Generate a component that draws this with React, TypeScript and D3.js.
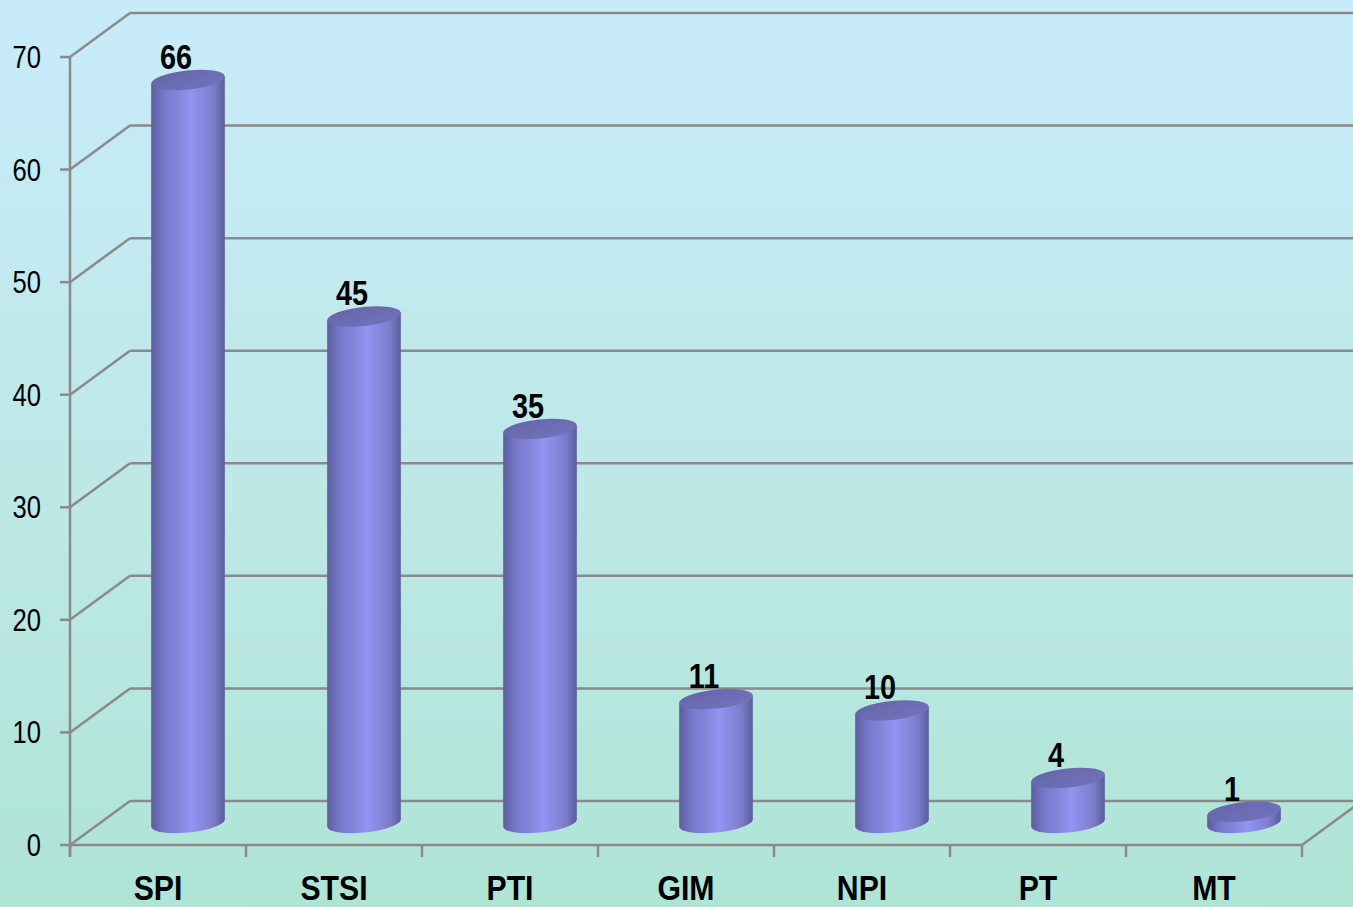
import React from 'react';
import * as d3 from 'd3';

const categories = ['SPI', 'STSI', 'PTI', 'GIM', 'NPI', 'PT', 'MT'];
const values = [66, 45, 35, 11, 10, 4, 1];
const yTicks = [0, 10, 20, 30, 40, 50, 60, 70];

const W = 1353;
const H = 907;
const depthX = 60;
const depthY = -44;
const gridColor = '#8a8a8a';
const font = "'Liberation Sans', Arial, sans-serif";
const squeeze = 0.8; // no narrow font installed, so condense by hand

// text drawn condensed around its anchor point
function NarrowText(props: { x: number; y: number; size: number; bold?: boolean; anchor?: string; sx?: number; children: React.ReactNode }) {
  return (
    <g transform={`translate(${props.x},${props.y}) scale(${props.sx || squeeze},1)`}>
      <text
        x={0}
        y={0}
        textAnchor={props.anchor || 'middle'}
        fontFamily={font}
        fontWeight={props.bold ? 'bold' : 'normal'}
        fontSize={props.size}
        fill="#000"
      >
        {props.children}
      </text>
    </g>
  );
}

export default function App() {
  const x = d3.scaleBand<string>().domain(categories).range([70, 1302]).padding(0);
  const y = d3.scaleLinear().domain([0, 70]).range([845, 57]);

  const rx = 37;
  const ry = 9.5;
  const rot = -6;
  const th = (rot * Math.PI) / 180;
  const xe = Math.sqrt(rx * rx * Math.cos(th) ** 2 + ry * ry * Math.sin(th) ** 2);
  const ye = ((rx * rx - ry * ry) * Math.sin(th) * Math.cos(th)) / xe;

  const x0 = x.range()[0];
  const x1 = x.range()[1];
  const bounds = categories.map((c) => x(c)!).concat([x1]);

  return (
    <svg width={W} height={H} style={{ position: 'absolute', left: 0, top: 0 }}>
      <defs>
        <linearGradient id="bg" x1="0" y1="0" x2="0" y2="1">
          <stop offset="0%" stopColor="#c8ebfa" />
          <stop offset="55%" stopColor="#bde8e6" />
          <stop offset="100%" stopColor="#afe4d5" />
        </linearGradient>
        <linearGradient id="cyl" x1="0" y1="0" x2="1" y2="0">
          <stop offset="0%" stopColor="#5a5b9e" />
          <stop offset="15%" stopColor="#7476c4" />
          <stop offset="55%" stopColor="#9194f2" />
          <stop offset="85%" stopColor="#7a7cca" />
          <stop offset="100%" stopColor="#5b5c9a" />
        </linearGradient>
        <linearGradient id="cap" x1="0" y1="0" x2="1" y2="1">
          <stop offset="0%" stopColor="#6465a8" />
          <stop offset="100%" stopColor="#7273bc" />
        </linearGradient>
      </defs>
      <rect x={0} y={0} width={W} height={H} fill="url(#bg)" />

      {/* back wall gridlines, diagonals, left ticks */}
      {yTicks.map((t) => (
        <g key={t}>
          <line x1={x0 + depthX} x2={W + 20} y1={y(t) + depthY} y2={y(t) + depthY} stroke={gridColor} strokeWidth={2.5} />
          <line x1={x0} y1={y(t)} x2={x0 + depthX} y2={y(t) + depthY} stroke={gridColor} strokeWidth={2.5} />
          <line x1={x0 - 10} x2={x0} y1={y(t)} y2={y(t)} stroke={gridColor} strokeWidth={2.5} />
          <NarrowText x={41} y={y(t) + 11} size={32} anchor="end">
            {t}
          </NarrowText>
        </g>
      ))}

      {/* floor front edge, right edge, axis */}
      <line x1={x0} x2={x1} y1={y(0)} y2={y(0)} stroke={gridColor} strokeWidth={2.5} />
      <line x1={x1} y1={y(0)} x2={x1 + depthX} y2={y(0) + depthY} stroke={gridColor} strokeWidth={2.5} />
      <line x1={x0} x2={x0} y1={y(70)} y2={y(0) + 12} stroke={gridColor} strokeWidth={2.5} />
      {bounds.map((b, i) => (
        <line key={i} x1={b} x2={b} y1={y(0)} y2={y(0) + 12} stroke={gridColor} strokeWidth={2.5} />
      ))}

      {/* cylinders */}
      {categories.map((c, i) => {
        const cx = x(c)! + x.bandwidth() / 2 + depthX / 2;
        const base = y(0) + depthY / 2;
        const top = y(values[i]) + depthY / 2;
        const body = `M${cx - xe},${top - ye} L${cx - xe},${base - ye} A${rx},${ry} ${rot} 0 0 ${cx + xe},${base + ye} L${cx + xe},${top + ye} Z`;
        return (
          <g key={c}>
            <path d={body} fill="url(#cyl)" />
            <ellipse cx={cx} cy={top} rx={rx} ry={ry} transform={`rotate(${rot},${cx},${top})`} fill="url(#cap)" />
            <NarrowText x={cx - 12} y={top - 11} size={36} bold>
              {values[i]}
            </NarrowText>
          </g>
        );
      })}

      {/* category labels */}
      {categories.map((c) => (
        <NarrowText key={c} x={x(c)! + x.bandwidth() / 2} y={900} size={36} sx={0.84} bold>
          {c}
        </NarrowText>
      ))}
    </svg>
  );
}
